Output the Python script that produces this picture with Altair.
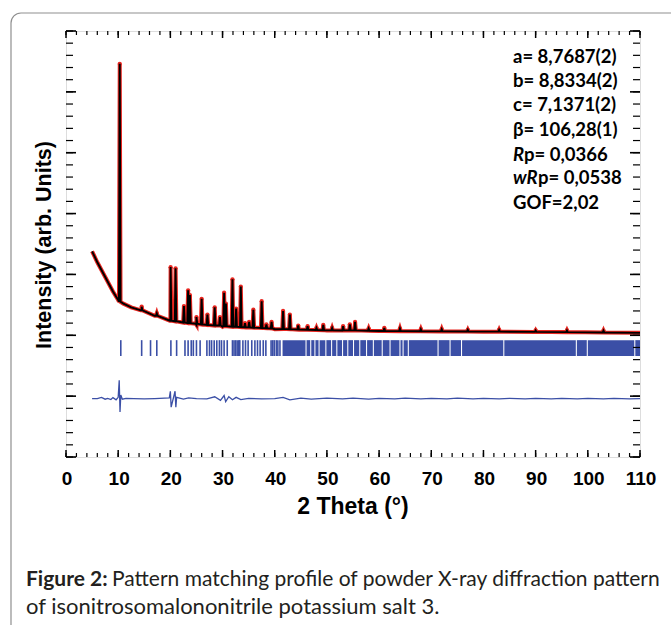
import altair as alt
import pandas as pd

# ---------------- data ----------------
# background anchors of the powder pattern (2theta, intensity)
bg_x = [5, 6, 7, 8, 9, 10, 11, 12.5, 14.5, 17, 20, 25, 30, 40, 50, 60, 80, 110]
bg_y = [16.9, 16.0, 15.2, 14.4, 13.6, 12.9, 12.6, 12.3, 12.05, 11.6, 11.2, 10.85,
        10.7, 10.5, 10.4, 10.35, 10.3, 10.2]

# reflections seen in the profile: position, foot level, top level
peak_pos = [10.3, 14.5, 17.4, 20.05, 21.0, 22.6, 23.4, 23.75, 25.0, 26.0, 27.1, 28.5,
            29.5, 30.3, 30.65, 31.9, 32.6, 33.5, 34.3, 35.1, 35.9, 37.5, 38.4, 39.4,
            41.6, 42.9, 44.5, 46.3, 48.0, 49.3, 51.0, 53.1, 54.4, 55.4, 58.0, 61.0,
            64.0, 68.0, 72.0, 77.0, 83.0, 90.0, 96.0, 103.0]
peak_base = [12.75, 12.05, 11.6, 11.2, 11.15, 11.05, 11.0, 11.0, 10.95, 10.9, 10.85, 10.8,
             10.8, 10.75, 10.75, 10.7, 10.7, 10.68, 10.66, 10.65, 10.63, 10.6, 10.58, 10.56,
             10.52, 10.5, 10.47, 10.45, 10.43, 10.42, 10.41, 10.4, 10.4, 10.4, 10.37, 10.35,
             10.34, 10.33, 10.32, 10.31, 10.3, 10.28, 10.26, 10.23]
peak_top = [32.3, 12.35, 11.8, 15.6, 15.5, 12.4, 13.7, 13.3, 11.5, 13.0, 11.7, 12.3,
            11.5, 13.5, 12.6, 14.6, 12.2, 14.0, 11.0, 11.1, 12.1, 12.8, 10.9, 11.1,
            12.0, 11.7, 10.8, 10.75, 10.6, 10.85, 10.6, 10.75, 10.9, 11.1, 10.55, 10.6,
            10.55, 10.5, 10.5, 10.45, 10.45, 10.4, 10.4, 10.38]

# difference curve (obs - calc), offset
diff_x = [5, 6.0, 6.8, 7.5, 8, 8.6, 9.0, 9.6, 10.0, 10.2, 10.35, 10.5, 10.8, 11.5, 13, 15,
          17, 19.8, 20.0, 20.15, 20.9, 21.05, 21.2, 22.5, 23.5, 25, 27, 28.5, 29.6, 30.3,
          30.6, 31.2, 31.9, 32.6, 33.5, 35, 37.5, 40, 41.6, 42.9, 45, 47, 50, 53, 55, 58,
          60, 63, 65, 68, 70, 73, 75, 78, 80, 83, 85, 88, 90, 93, 95, 98, 100, 103,
          105, 108, 110]
diff_y = [4.8, 4.8, 4.9, 4.75, 4.82, 4.72, 4.88, 4.7, 4.9, 6.3, 3.7, 5.1, 4.75, 4.82, 4.8,
          4.78, 4.8, 4.85, 5.4, 4.1, 5.4, 4.1, 4.9, 4.75, 4.85, 4.8, 4.78, 4.95, 4.65, 5.05,
          4.55, 4.95, 4.7, 4.9, 4.72, 4.82, 4.78, 4.8, 4.9, 4.7, 4.84, 4.76, 4.83, 4.77,
          4.84, 4.76, 4.82, 4.77, 4.83, 4.78, 4.82, 4.77, 4.83, 4.78, 4.82, 4.77, 4.82,
          4.78, 4.82, 4.77, 4.82, 4.78, 4.82, 4.77, 4.82, 4.78, 4.8]

# Bragg reflection markers: separate ticks, then a dense band with white gaps
refl_pos = [10.5, 14.5, 16.2, 17.4, 20.1, 21.2, 22.8, 23.4, 24.0, 24.4, 25.0, 25.7, 27.0,
            27.5, 27.9, 28.4, 28.9, 29.4, 29.8, 30.3, 30.9, 31.9, 32.2, 32.5, 32.8, 33.1,
            33.3, 33.9, 34.4, 34.9, 35.6, 36.2, 36.7, 37.2, 37.8, 38.3, 39.3, 39.6, 39.9,
            40.3, 40.6, 41.0]
band_start = 41.5
band_end = 110
band_gaps = [46.0, 46.9, 47.7, 48.5, 49.8, 50.9, 51.9, 53.0, 54.0, 55.1, 56.3, 57.6, 58.9,
             60.6, 62.1, 64.0, 64.6, 65.6, 71.3, 73.6, 75.8, 83.9, 97.8, 99.9, 109.0]
refl_low, refl_high = 8.3, 9.6

x_labels = list(range(0, 111, 10))
x_minor = list(range(0, 111, 2))
y_minor = list(range(0, 36))
y_major = list(range(0, 36, 5))

x_title = "2 Theta (°)"
y_title = "Intensity (arb. Units)"
params = ["a= 8,7687(2)", "b= 8,8334(2)", "c= 7,1371(2)", "β= 106,28(1)"]
rp_text = ("R", "p= 0,0366")
wrp_text = ("wR", "p= 0,0538")
gof_text = "GOF=2,02"
caption_bold = "Figure 2:"
caption_1 = "Pattern matching profile of powder X-ray diffraction pattern"
caption_2 = "of isonitrosomalononitrile potassium salt 3."

# ---------------- tables ----------------
HW = 0.15
rows = [(x, y) for x, y in zip(bg_x, bg_y)]
for p, b, t in zip(peak_pos, peak_base, peak_top):
    rows += [(p - HW, b), (p, t), (p + HW, b)]
rows.sort()
profile = pd.DataFrame(rows, columns=["x", "y"])
tops = pd.DataFrame({"x": peak_pos, "y": peak_top})
diff = pd.DataFrame({"x": diff_x, "y": diff_y})
refl = pd.DataFrame({"x": refl_pos})
starts = [band_start] + [g + 0.1 for g in band_gaps]
ends = [g - 0.1 for g in band_gaps] + [band_end]
band = pd.DataFrame({"x": starts, "x2": ends})
one = pd.DataFrame({"k": [0]})

W, H = 574, 426
xs = alt.Scale(domain=[0, 110], nice=False, zero=False)
ys = alt.Scale(domain=[0, 35], nice=False, zero=False)
RED = "#e8251f"
BLUE = "#3b4fa6"
FONT = "Liberation Sans"
TFONT = "Lato"


def X(f="x:Q"):
    return alt.X(f, scale=xs, axis=None)


def Y(f="y:Q"):
    return alt.Y(f, scale=ys, axis=None)


border = alt.Chart(one).mark_rect(
    cornerRadius=10, fillOpacity=0, stroke="#8f8f8f", strokeWidth=1.2
).encode(x=alt.value(-55), x2=alt.value(700), y=alt.value(-18), y2=alt.value(700))

red_line = alt.Chart(profile).mark_line(color=RED, strokeWidth=4).encode(
    x=X(), y=Y(), order="x:Q")
red_pts = alt.Chart(tops).mark_circle(color=RED, size=18, opacity=1).encode(x=X(), y=Y())
black_line = alt.Chart(profile).mark_line(color="black", strokeWidth=1.9).encode(
    x=X(), y=Y(), order="x:Q")

refl_ticks = alt.Chart(refl).mark_rule(color=BLUE, strokeWidth=1.6).encode(
    x=X(), y=alt.datum(refl_high, scale=ys, axis=None), y2=alt.datum(refl_low))
refl_band = alt.Chart(band).mark_rect(color=BLUE).encode(
    x=X(), x2="x2:Q",
    y=alt.datum(refl_high, scale=ys, axis=None), y2=alt.datum(refl_low))

diff_line = alt.Chart(diff).mark_line(color=BLUE, strokeWidth=1.3).encode(
    x=X(), y=Y(), order="x:Q")


def xt(vals, y0, y1, sw):
    return alt.Chart(pd.DataFrame({"v": vals})).mark_rule(color="black", strokeWidth=sw).encode(
        x=X("v:Q"), y=alt.value(y0), y2=alt.value(y1))


def yt(vals, x0, x1, sw):
    return alt.Chart(pd.DataFrame({"v": vals})).mark_rule(color="black", strokeWidth=sw).encode(
        y=Y("v:Q"), x=alt.value(x0), x2=alt.value(x1))


ticks = [
    xt(x_minor, H, H - 4, 1.2), xt(x_labels, H, H - 7, 1.5),
    xt(x_minor, 0, 4, 1.2), xt(x_labels, 0, 7, 1.5),
    yt(y_minor, 0, 7, 1.2), yt(y_major, 0, 10, 1.6),
    yt(y_minor, W, W - 7, 1.2), yt(y_major, W, W - 10, 1.6),
]

x_tick_labels = alt.Chart(pd.DataFrame({"v": x_labels})).mark_text(
    font=FONT, fontSize=19, fontWeight="bold", color="black",
    align="center", baseline="top", dx=1
).encode(x=X("v:Q"), y=alt.value(H + 13), text=alt.Text("v:Q", format="d"))


def txt(s, x, y, size, weight="bold", style="normal", font=TFONT, color="black",
        angle=0, align="left"):
    return alt.Chart(one).mark_text(
        text=s, align=align, baseline="middle", font=font, fontSize=size,
        fontWeight=weight, fontStyle=style, color=color, angle=angle
    ).encode(x=alt.value(x), y=alt.value(y))


titles = [txt(x_title, 287, 476, 23, font=FONT, align="center"),
          txt(y_title, -21, 214, 21.5, font=FONT, align="center", angle=270)]

AX, AS = 447, 18.5
ann = [txt(s, AX, y, AS) for s, y in zip(params, [26, 50, 74, 99])]
ann += [txt(rp_text[0], AX, 124, AS, style="italic"), txt(rp_text[1], AX + 11, 124, AS),
        txt(wrp_text[0], AX, 147, AS, style="italic"), txt(wrp_text[1], AX + 25, 147, AS),
        txt(gof_text, AX, 172, AS)]

CS = 21
cap = [txt(caption_bold, -40, 549, CS, color="#231f20"),
       txt(caption_1, 46, 549, CS, weight="normal", color="#231f20"),
       txt(caption_2, -40, 576, 22, weight="normal", color="#231f20")]

chart = alt.layer(
    border, red_line, red_pts, black_line, refl_ticks, refl_band, diff_line,
    *ticks, x_tick_labels, *titles, *ann, *cap
).properties(
    width=W, height=H,
    padding={"left": 66, "top": 31, "right": 31, "bottom": 168},
    autosize=alt.AutoSizeParams(type="none"),
).configure_view(stroke="black", strokeWidth=2).configure(background="white")

chart.save("out.html", embed_options={"renderer": "svg", "actions": False})
